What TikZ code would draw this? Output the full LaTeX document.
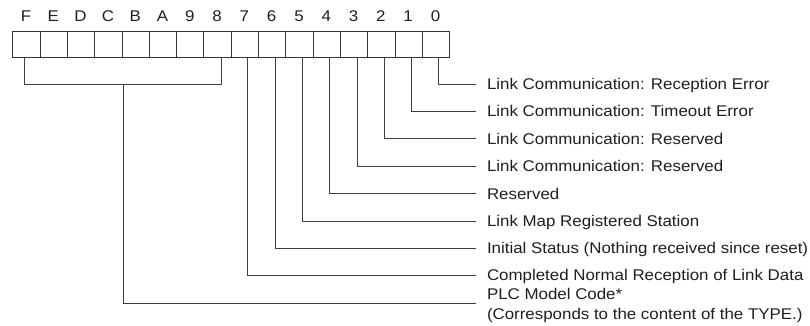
\documentclass[tikz,border=0pt]{standalone}
\usepackage{fontspec}
\setmainfont[FakeStretch=1.09]{Liberation Sans}
\begin{document}
\begin{tikzpicture}[x=1pt,y=-1pt,
  every node/.style={font=\fontsize{15.5}{18}\selectfont, text=black!88},
  cell/.style={draw=black!80, line width=0.9pt, minimum width=27.3pt, minimum height=25.5pt, inner sep=0pt, anchor=north west},
  hdr/.style={inner sep=0pt, anchor=base},
  lbl/.style={inner sep=0pt, anchor=west, text height=11pt, text depth=0pt},
  lblb/.style={inner sep=0pt, anchor=base west},
  conn/.style={draw=black!75, line width=0.9pt}]
\useasboundingbox (0,0) rectangle (810,325);
\foreach \b [count=\i from 0] in {F,E,D,C,B,A,9,8,7,6,5,4,3,2,1,0} {
  \node[cell] (c\b) at ({12.3+27.3*\i},31) {};
  \node[hdr] (h\b) at ({12.3+27.3*\i+13.65},21.7) {\b};
}
\node[lbl] (l0) at (486.8,84) {Link Communication: Reception Error};
\node[lbl] (l1) at (486.8,111.4) {Link Communication: Timeout Error};
\node[lbl] (l2) at (486.8,138.8) {Link Communication: Reserved};
\node[lbl] (l3) at (486.8,166.2) {Link Communication: Reserved};
\node[lbl] (l4) at (486.8,193.6) {Reserved};
\node[lbl] (l5) at (486.8,221) {Link Map Registered Station};
\node[lbl] (l6) at (486.8,248.4) {Initial Status (Nothing received since reset)};
\node[lbl] (l7) at (486.8,275.3) {Completed Normal Reception of Link Data};
\node[lblb] (lplc) at (486.8,299.5) {PLC Model Code*};
\node[lblb] (lplc2) at (486.8,319.3) {(Corresponds to the content of the TYPE.)};
\foreach \b in {0,...,7} {
  \draw[conn] ([xshift=3pt]c\b.south) |- ([xshift=-10.8pt]l\b.west);
}
\draw[conn] ([xshift=-1.5pt]cF.south) -- ++(0,27) -| ([xshift=3.5pt]c8.south);
\coordinate (stem) at (123,83.5);
\draw[conn] (stem) |- ([xshift=-10.8pt,yshift=-3.7pt]lplc.base west);
\end{tikzpicture}
\end{document}
